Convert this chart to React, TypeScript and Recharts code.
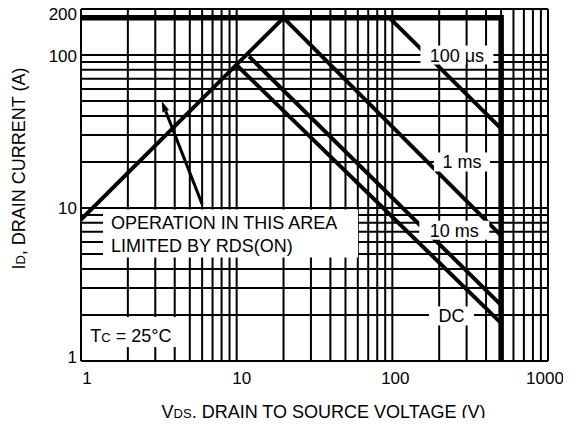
import React from 'react';
import { LineChart, Line, XAxis, YAxis, CartesianGrid, ReferenceDot, ReferenceLine } from 'recharts';

// ---------- data ----------
const xGridTicks = [1, 2, 3, 4, 5, 6, 7, 8, 9, 10, 20, 30, 40, 50, 60, 70, 80, 90, 100, 200, 300, 400, 500, 600, 700, 800, 900, 1000];
const xLabelTicks = [1, 10, 100, 1000];
const yGridTicks = [1, 2, 3, 4, 5, 6, 7, 8, 9, 10, 20, 30, 40, 50, 60, 70, 80, 90, 100, 200];
const yLabelTicks = [1, 10, 100, 200];

const currentLimit = [{ x: 1, y: 175 }, { x: 500, y: 175 }, { x: 500, y: 1 }];
const rdsLimit = [{ x: 1, y: 8.4 }, { x: 20, y: 175 }];
const pulse100us = [{ x: 96, y: 175 }, { x: 500, y: 33 }];
const pulse1ms = [{ x: 20, y: 175 }, { x: 500, y: 6.6 }];
const pulse10ms = [{ x: 12, y: 98 }, { x: 500, y: 2.32 }];
const dcLine = [{ x: 10, y: 86 }, { x: 500, y: 1.77 }];

const curveLabels = [
  { text: '100 μs', x: 260, y: 100 },
  { text: '1 ms', x: 280, y: 20 },
  { text: '10 ms', x: 250, y: 7 },
  { text: 'DC', x: 240, y: 2 },
];
const tcAnchor = { x: 2, y: 1.5 };
const areaAnchor = { x: 1, y: 10 };
const areaLines = ['OPERATION IN THIS AREA', 'LIMITED BY RDS(ON)'];
const arrowTip = { x: 3.3, y: 50 };
const arrowTail = { x: 6, y: 10.6 };

// ---------- styles ----------
const FONT = '"Liberation Sans", Arial, Helvetica, sans-serif';
const INK = '#000';
const boxWidths: Record<string, number> = { '100 μs': 73, '1 ms': 56, '10 ms': 70, DC: 45 };
const boxDy: Record<string, number> = { '100 μs': 0, '1 ms': 0, '10 ms': -1.5, DC: 1 };
const xTickNudge: Record<number, number> = { 1: 6, 10: 5, 100: 3, 1000: -3 };
const yTickNudge: Record<number, number> = { 1: -4, 10: 0, 100: 1, 200: 5 };

const XTick = (props: any) => {
  const { x, y, payload } = props;
  const v = payload.value;
  if (!xLabelTicks.includes(v)) return <g />;
  return (
    <text x={x + (xTickNudge[v] || 0)} y={y} dy="0.71em" textAnchor="middle" fontSize={17} fill={INK} fontFamily={FONT}>
      {v}
    </text>
  );
};

const YTick = (props: any) => {
  const { x, y, payload } = props;
  const v = payload.value;
  if (!yLabelTicks.includes(v)) return <g />;
  return (
    <text x={x} y={y + (yTickNudge[v] || 0)} dy="0.36em" textAnchor="end" fontSize={17} fill={INK} fontFamily={FONT}>
      {v}
    </text>
  );
};

const xTitle = (props: any) => {
  const vb = props.viewBox || { x: 73, y: 353, width: 467, height: 65 };
  return (
    <text x={vb.x + vb.width / 2 + 9} y={vb.y + 57} textAnchor="middle" fontSize={18} fill={INK} fontFamily={FONT}>
      <tspan>V</tspan>
      <tspan fontSize={13}>DS</tspan>
      <tspan>, DRAIN TO SOURCE VOLTAGE (V)</tspan>
    </text>
  );
};

const yTitle = (props: any) => {
  const vb = props.viewBox || { x: 0, y: 1, width: 73, height: 352 };
  const ax = vb.x + 17;
  const ay = vb.y + vb.height / 2 - 16.5;
  return (
    <text x={ax} y={ay} transform={`rotate(-90, ${ax}, ${ay})`} textAnchor="middle" fontSize={18} fill={INK} fontFamily={FONT}>
      <tspan>I</tspan>
      <tspan fontSize={13}>D</tspan>
      <tspan>, DRAIN CURRENT (A)</tspan>
    </text>
  );
};

const makeBoxLabel = (text: string) => (props: any) => {
  const { cx, cy } = props;
  const w = boxWidths[text];
  const h = 19;
  const c = cy + (boxDy[text] || 0);
  return (
    <g>
      <rect x={cx - w / 2} y={c - h / 2} width={w} height={h} fill="#fff" />
      <text x={cx} y={c} dy="0.36em" textAnchor="middle" fontSize={18} fill={INK} fontFamily={FONT}>
        {text}
      </text>
    </g>
  );
};

const tcLabel = (props: any) => {
  const { cx, cy } = props;
  return (
    <g>
      <rect x={cx - 45} y={cy - 17} width={97} height={30} fill="#fff" />
      <text x={cx + 3} y={cy + 1} dy="0.36em" textAnchor="middle" fontSize={18} fill={INK} fontFamily={FONT}>
        <tspan>T</tspan>
        <tspan fontSize={13}>C</tspan>
        <tspan> = 25°C</tspan>
      </text>
    </g>
  );
};

const areaLabel = (props: any) => {
  const { cx, cy } = props;
  return (
    <g>
      <rect x={cx + 22} y={cy + 1.5} width={255} height={48} fill="#fff" />
      {areaLines.map((t, i) => (
        <text key={t} x={cx + 30} y={cy + 20.5 + i * 23.4} fontSize={18} fill={INK} fontFamily={FONT}>
          {t}
        </text>
      ))}
    </g>
  );
};

const arrowShape = (props: any) => {
  const { x1, y1, x2, y2 } = props;
  const dx = x1 - x2;
  const dy = y1 - y2;
  const len = Math.sqrt(dx * dx + dy * dy) || 1;
  const ux = dx / len;
  const uy = dy / len;
  const headL = 11;
  const headW = 3.5;
  const bx = x1 - ux * headL;
  const by = y1 - uy * headL;
  return (
    <g>
      <line x1={x2} y1={y2} x2={bx} y2={by} stroke={INK} strokeWidth={3} />
      <polygon
        points={`${x1},${y1} ${bx - uy * headW},${by + ux * headW} ${bx + uy * headW},${by - ux * headW}`}
        fill={INK}
      />
    </g>
  );
};

export default function App() {
  const lineCommon = {
    dataKey: 'y',
    stroke: INK,
    dot: false,
    activeDot: false,
    isAnimationActive: false,
    type: 'linear' as const,
    strokeLinejoin: 'miter' as const,
    strokeLinecap: 'butt' as const,
  };
  return (
    <div style={{ width: 563, height: 410, fontFamily: FONT }}>
      <style>{`.recharts-surface{overflow:visible}`}</style>
      <LineChart width={563} height={418} margin={{ top: 1, right: 23, bottom: 0, left: 0 }}>
        <CartesianGrid stroke={INK} strokeWidth={2} />
        <XAxis
          dataKey="x"
          type="number"
          scale="log"
          domain={[1, 1000]}
          allowDataOverflow
          ticks={xGridTicks}
          interval={0}
          tick={XTick}
          tickLine={false}
          tickSize={0}
          tickMargin={11}
          axisLine={{ stroke: INK, strokeWidth: 2 }}
          height={65}
          label={xTitle}
        />
        <YAxis
          type="number"
          scale="log"
          domain={[1, 200]}
          allowDataOverflow
          ticks={yGridTicks}
          interval={0}
          tick={YTick}
          tickLine={false}
          tickSize={0}
          tickMargin={4}
          axisLine={{ stroke: INK, strokeWidth: 2 }}
          width={73}
          label={yTitle}
        />
        <Line data={rdsLimit} strokeWidth={4} {...lineCommon} />
        <Line data={pulse100us} strokeWidth={4} {...lineCommon} />
        <Line data={pulse1ms} strokeWidth={4} {...lineCommon} />
        <Line data={pulse10ms} strokeWidth={4} {...lineCommon} />
        <Line data={dcLine} strokeWidth={4} {...lineCommon} />
        <Line data={currentLimit} strokeWidth={5.5} {...lineCommon} />
        <ReferenceLine
          segment={[arrowTip, arrowTail]}
          stroke={INK}
          shape={arrowShape}
          ifOverflow="visible"
          zIndex={2100}
        />
        {curveLabels.map((l) => (
          <ReferenceDot key={l.text} x={l.x} y={l.y} r={0} shape={makeBoxLabel(l.text)} ifOverflow="visible" zIndex={2100} />
        ))}
        <ReferenceDot x={tcAnchor.x} y={tcAnchor.y} r={0} shape={tcLabel} ifOverflow="visible" zIndex={2100} />
        <ReferenceDot x={areaAnchor.x} y={areaAnchor.y} r={0} shape={areaLabel} ifOverflow="visible" zIndex={2100} />
      </LineChart>
    </div>
  );
}
